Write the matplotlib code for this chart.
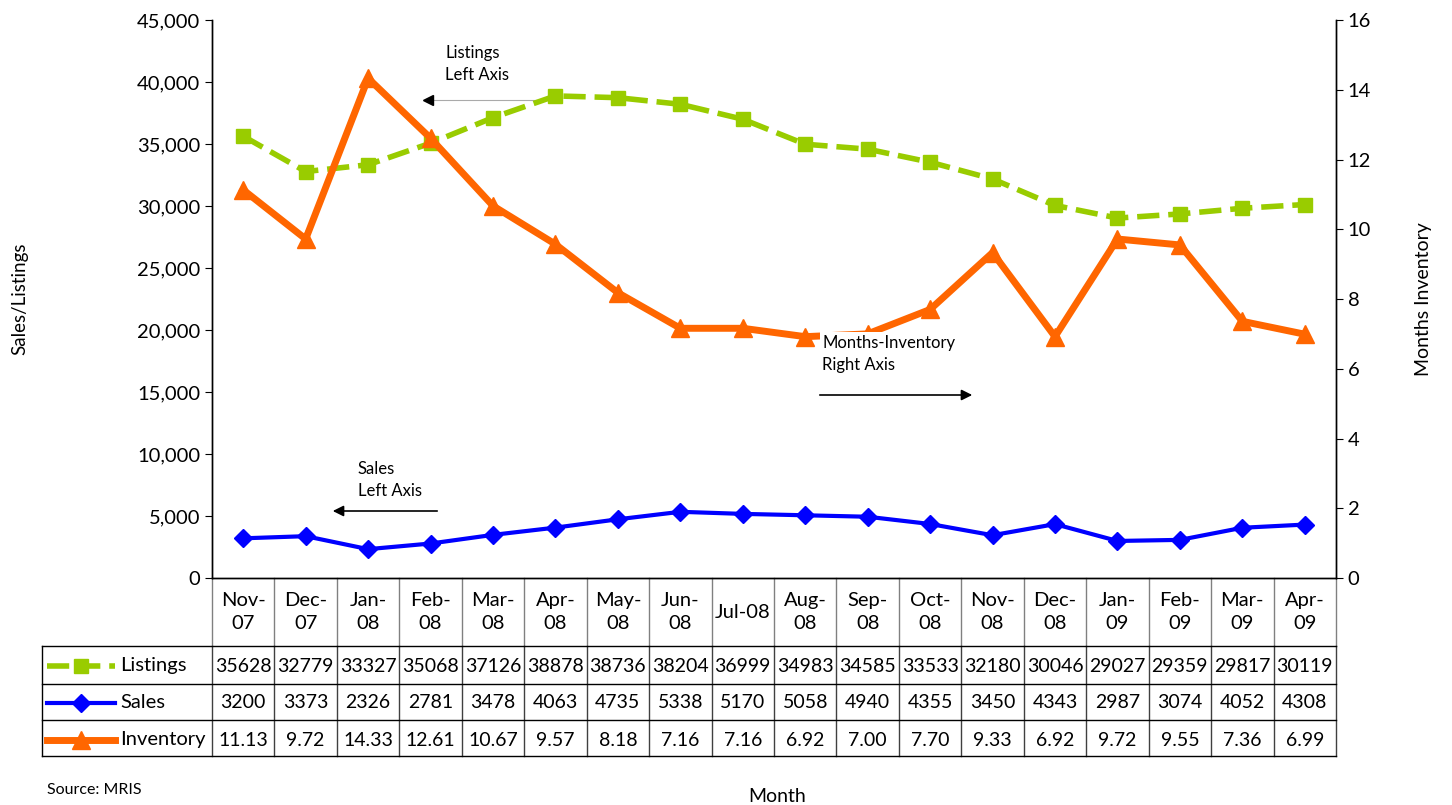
import matplotlib.pyplot as plt
import numpy as np
from matplotlib.lines import Line2D

plt.rcParams['font.family'] = ['Lato', 'DejaVu Sans']

months = ["Nov-\n07", "Dec-\n07", "Jan-\n08", "Feb-\n08", "Mar-\n08", "Apr-\n08",
          "May-\n08", "Jun-\n08", "Jul-08", "Aug-\n08", "Sep-\n08", "Oct-\n08",
          "Nov-\n08", "Dec-\n08", "Jan-\n09", "Feb-\n09", "Mar-\n09", "Apr-\n09"]
listings = [35628, 32779, 33327, 35068, 37126, 38878, 38736, 38204, 36999,
            34983, 34585, 33533, 32180, 30046, 29027, 29359, 29817, 30119]
sales = [3200, 3373, 2326, 2781, 3478, 4063, 4735, 5338, 5170,
         5058, 4940, 4355, 3450, 4343, 2987, 3074, 4052, 4308]
inventory = [11.13, 9.72, 14.33, 12.61, 10.67, 9.57, 8.18, 7.16, 7.16,
             6.92, 7.00, 7.70, 9.33, 6.92, 9.72, 9.55, 7.36, 6.99]
inv_labels = ["11.13", "9.72", "14.33", "12.61", "10.67", "9.57", "8.18", "7.16", "7.16",
              "6.92", "7.00", "7.70", "9.33", "6.92", "9.72", "9.55", "7.36", "6.99"]

green = "#99CC00"
blue = "#0000FF"
orange = "#FF6600"

W, H = 1452, 805
fig = plt.figure(figsize=(W / 100, H / 100), dpi=100)
L, R, T, B = 212, 1336, 20, 578
ax = fig.add_axes([L / W, 1 - B / H, (R - L) / W, (B - T) / H])
ax2 = ax.twinx()

x = np.arange(len(months))
n = len(months)

ax.plot(x, listings, color=green, lw=4, ls=(0, (4, 1.6)), marker="s", ms=10.5, zorder=3)
ax.plot(x, sales, color=blue, lw=3, marker="D", ms=9, zorder=3)
ax2.plot(x, inventory, color=orange, lw=5, marker="^", ms=13, zorder=3)

ax.set_xlim(-0.5, n - 0.5)
ax.set_ylim(0, 45000)
ax.set_yticks(np.arange(0, 45001, 5000))
ax.set_yticklabels([f"{v:,}" for v in range(0, 45001, 5000)], fontsize=14.5)
ax2.set_ylim(0, 16)
ax2.set_yticks(np.arange(0, 17, 2))
ax2.tick_params(axis="y", labelsize=14.5, length=5)
ax.tick_params(axis="y", length=5)
ax.set_xticks([])
for a in (ax, ax2):
    a.spines["top"].set_visible(False)
    for s in ("left", "right", "bottom"):
        a.spines[s].set_color("black")
        a.spines[s].set_linewidth(1)

# pixel -> axes fraction helpers
def fx(px):
    return (px - L) / (R - L)

def fy(py):
    return (B - py) / (B - T)

# data table
row_y = [578, 646, 684, 720, 756]
tab_left = 42
grid_kw = dict(transform=ax.transAxes, clip_on=False, lw=1)
for i in range(n + 1):
    xf = i / n
    ax.add_line(Line2D([xf, xf], [fy(578), fy(646)], color="#808080", **grid_kw))
    ax.add_line(Line2D([xf, xf], [fy(646), fy(756)], color="#404040", **grid_kw))
ax.add_line(Line2D([fx(tab_left), fx(tab_left)], [fy(646), fy(756)], color="black", **grid_kw))
for py in row_y[1:]:
    ax.add_line(Line2D([fx(tab_left), 1], [fy(py), fy(py)], color="black", **grid_kw))

for i, m in enumerate(months):
    xc = (i + 0.5) / n
    ax.text(xc, fy(612), m, transform=ax.transAxes, ha="center", va="center",
            fontsize=14.5, linespacing=1.4)
    ax.text(xc, fy(666), str(listings[i]), transform=ax.transAxes, ha="center",
            va="center", fontsize=14)
    ax.text(xc, fy(703), str(sales[i]), transform=ax.transAxes, ha="center",
            va="center", fontsize=14)
    ax.text(xc, fy(740), inv_labels[i], transform=ax.transAxes, ha="center",
            va="center", fontsize=14)

rows = [("Listings", green, (0, (4, 1.6)), "s", 10.5, 4, 666),
        ("Sales", blue, "-", "D", 9, 3, 703),
        ("Inventory", orange, "-", "^", 13, 5, 740)]
for name, col, ls, mk, ms, lw, py in rows:
    ax.add_line(Line2D([fx(47), fx(115)], [fy(py), fy(py)], color=col, ls=ls, lw=lw,
                       transform=ax.transAxes, clip_on=False))
    ax.add_line(Line2D([fx(81)], [fy(py)], color=col, marker=mk, ms=ms, ls="none",
                       transform=ax.transAxes, clip_on=False))
    ax.text(fx(120), fy(py), name, transform=ax.transAxes, ha="left", va="center",
            fontsize=14.5)

# annotations
ax.text(fx(445), fy(64), "Listings\nLeft Axis", transform=ax.transAxes, fontsize=12,
        ha="left", va="center", linespacing=1.5)
ax.add_line(Line2D([fx(428), fx(555)], [fy(100), fy(100)], color="#aaaaaa", lw=0.8,
                   transform=ax.transAxes, clip_on=False))
ax.plot([fx(428)], [fy(100)], marker="<", color="black", ms=7, transform=ax.transAxes,
        clip_on=False)
ax.text(fx(358), fy(480), "Sales\nLeft Axis", transform=ax.transAxes, fontsize=12,
        ha="left", va="center", linespacing=1.5)
ax.annotate("", xy=(fx(330), fy(511)), xytext=(fx(440), fy(511)), xycoords="axes fraction",
            arrowprops=dict(arrowstyle="-|>", color="black", lw=1.2, mutation_scale=16))
ax2.text(fx(822), fy(354), "Months-Inventory\nRight Axis", transform=ax2.transAxes,
         fontsize=12, ha="left", va="center", linespacing=1.5, zorder=5,
         bbox=dict(boxstyle="square,pad=0.15", fc="white", ec="none"))
ax2.annotate("", xy=(fx(975), fy(395)), xytext=(fx(817), fy(395)), xycoords="axes fraction",
             arrowprops=dict(arrowstyle="-|>", color="black", lw=1.2, mutation_scale=16))

fig.text(20 / W, 1 - 299 / H, "Sales/Listings", rotation=90, ha="center", va="center",
         fontsize=13.5)
fig.text(1424 / W, 1 - 299 / H, "Months Inventory", rotation=90, ha="center",
         va="center", fontsize=14)
fig.text(777 / W, 1 - 796 / H, "Month", ha="center", va="center", fontsize=14)
fig.text(47 / W, 1 - 790 / H, "Source: MRIS", ha="left", va="center", fontsize=11.5)

fig.savefig("out.png", dpi=100)
